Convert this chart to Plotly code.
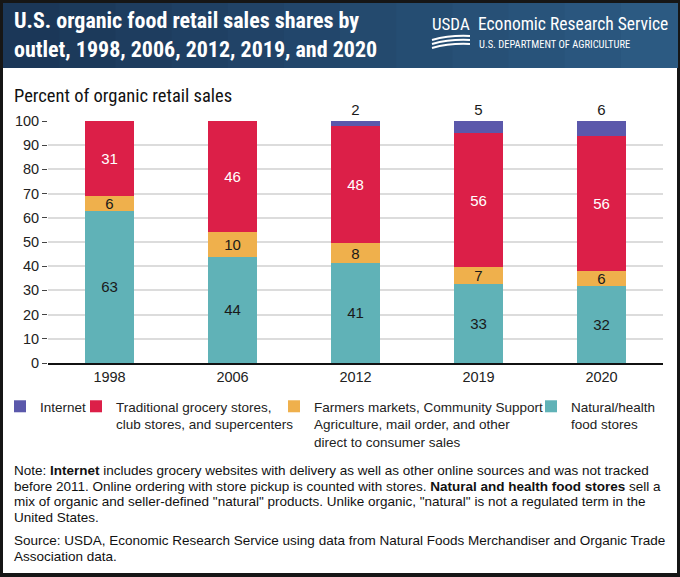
import plotly.graph_objects as go

years = ["1998", "2006", "2012", "2019", "2020"]
natural = [63, 44, 41, 33, 32]
farmers = [6, 10, 8, 7, 6]
traditional = [31, 46, 48, 56, 56]
internet = [None, None, 2, 5, 6]

names = ["Natural/health<br>food stores",
         "Farmers markets, Community Support<br>Agriculture, mail order, and other<br>direct to consumer sales",
         "Traditional grocery stores,<br>club stores, and supercenters",
         "Internet"]
colors = ["#60b2b7", "#efb04c", "#dc1f48", "#5b58ab"]
label_colors = ["#1a1a1a", "#1a1a1a", "#ffffff", "#1a1a1a"]

note_lines = [
    "Note: <b>Internet</b> includes grocery websites with delivery as well as other online sources and was not tracked",
    "before 2011. Online ordering with store pickup is counted with stores. <b>Natural and health food stores</b> sell a",
    "mix of organic and seller-defined \"natural\" products. Unlike organic, \"natural\" is not a regulated term in the",
    "United States.",
]
source_lines = [
    "Source: USDA, Economic Research Service using data from Natural Foods Merchandiser and Organic Trade",
    "Association data.",
]

NARROW = "Liberation Sans Narrow, Roboto Condensed, Roboto"
SANS = "Liberation Sans, Arial"

W, H = 680, 577
L, R, T, B = 48, 17, 121, 214
pw, ph = W - L - R, H - T - B


def px(x):
    return (x - L) / pw


def py(y):
    return (H - B - y) / ph


fig = go.Figure()
series = [natural, farmers, traditional, internet]
# left edge of each legend box (pixels)
legend_left = [531, 274, 76, -3]
legend_ids = ["legend4", "legend3", "legend2", "legend"]
for i, vals in enumerate(series):
    fig.add_trace(go.Bar(
        x=years, y=vals, name=names[i],
        marker=dict(color=colors[i], line=dict(width=0)),
        text=["" if v is None else str(v) for v in vals],
        textposition="outside" if i == 3 else "inside",
        insidetextanchor="middle", textangle=0,
        textfont=dict(family=SANS, size=15, color=label_colors[i]),
        cliponaxis=False,
        legend=legend_ids[i],
        showlegend=True,
        hoverinfo="skip",
    ))

leg_common = dict(orientation="h", xref="container", yref="container",
                  xanchor="left", yanchor="top", y=1 - 391 / H, valign="top",
                  bgcolor="rgba(0,0,0,0)",
                  font=dict(family=SANS, size=13.5, color="#222"),
                  itemclick=False, itemdoubleclick=False)

fig.update_layout(
    width=W, height=H,
    margin=dict(l=L, r=R, t=T, b=B, autoexpand=False),
    paper_bgcolor="#161616",
    plot_bgcolor="#ffffff",
    barmode="stack", barnorm="percent", bargap=0.6,
    uniformtext=dict(minsize=15, mode="show"),
    legend=dict(x=legend_left[3] / W, **leg_common),
    legend2=dict(x=legend_left[2] / W, **leg_common),
    legend3=dict(x=legend_left[1] / W, **leg_common),
    legend4=dict(x=legend_left[0] / W, **leg_common),
    xaxis=dict(showline=True, linecolor="#111", linewidth=1.5, ticks="",
               tickfont=dict(family=SANS, size=14.5, color="#222")),
    yaxis=dict(range=[0, 100], dtick=10, showgrid=True, gridcolor="#dcdcdc", gridwidth=1.5,
               zeroline=False, ticks="outside", ticklen=5, tickcolor="#444",
               tickfont=dict(family=SANS, size=14.5, color="#222")),
)

shapes = [dict(type="rect", xref="paper", yref="paper", x0=px(3), x1=px(677), y0=py(573), y1=py(3),
               fillcolor="#ffffff", line=dict(width=0), layer="below")]
# header band, darker left to lighter right
steps = 12
c0, c1 = (27, 55, 88), (44, 90, 130)
for k in range(steps):
    t = k / (steps - 1)
    c = tuple(int(c0[j] + (c1[j] - c0[j]) * t) for j in range(3))
    shapes.append(dict(type="rect", xref="paper", yref="paper",
                       x0=px(3 + 674 * k / steps), x1=px(3 + 674 * (k + 1) / steps + 1),
                       y0=py(68), y1=py(3), fillcolor="rgb(%d,%d,%d)" % c, line=dict(width=0), layer="below"))
# USDA swoosh
for off in [0, 4, 8]:
    shapes.append(dict(type="path", xref="paper", yref="paper",
                       path="M %f %f Q %f %f %f %f" % (px(432), py(40 + off), px(450), py(35 + off), px(470), py(36 + off)),
                       line=dict(color="white", width=2)))
fig.update_layout(shapes=shapes)


def text_ann(text, x, y, size, color="#111", family=NARROW, anchor="top"):
    return dict(text=text, x=px(x), y=py(y), xref="paper", yref="paper",
                xanchor="left", yanchor=anchor, align="left", showarrow=False,
                font=dict(family=family, size=size, color=color))


ann = []
ann.append(text_ann("<b>U.S. organic food retail sales shares by<br>outlet, 1998, 2006, 2012, 2019, and 2020</b>",
                    12, 6, 22, "white"))
ann.append(text_ann("USDA", 430, 12, 17, "white"))
ann.append(text_ann("Economic Research Service", 476, 12, 17.5, "white"))
ann.append(text_ann("U.S. DEPARTMENT OF AGRICULTURE", 477, 36, 10.5, "white"))
ann.append(text_ann("Percent of organic retail sales", 12, 83, 18.5))
# note and source, one annotation per line to keep the tight line spacing
note_y = [470, 486, 501.5, 517.5]
for line, yy in zip(note_lines, note_y):
    ann.append(text_ann(line, 12, yy, 13.5, family=SANS, anchor="middle"))
source_y = [540, 556]
for line, yy in zip(source_lines, source_y):
    ann.append(text_ann(line, 12, yy, 13.5, family=SANS, anchor="middle"))
fig.update_layout(annotations=ann)

fig.write_html("out.html", config={"displayModeBar": False},
               post_script="document.body.style.margin='0';")
